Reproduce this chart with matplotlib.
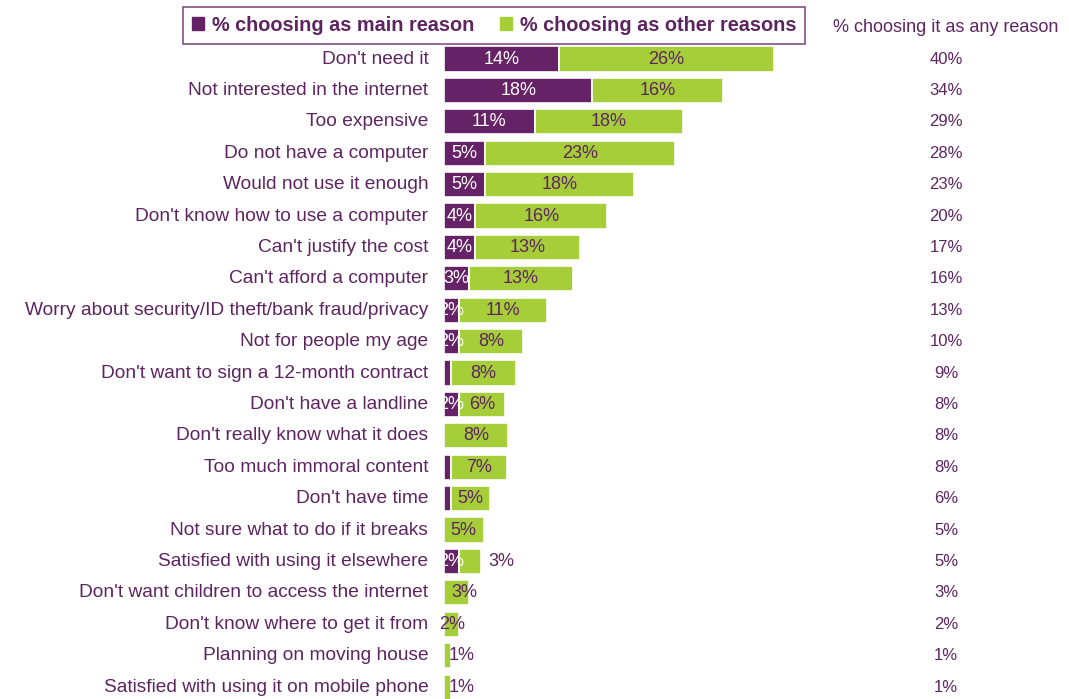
import matplotlib.pyplot as plt
from matplotlib.patches import Patch

plt.rcParams['font.family'] = ['Liberation Sans', 'DejaVu Sans']

purple = "#662266"
green = "#A6CE39"
txt = "#5E2461"

reasons = ["Don't need it", "Not interested in the internet", "Too expensive",
           "Do not have a computer", "Would not use it enough",
           "Don't know how to use a computer", "Can't justify the cost",
           "Can't afford a computer", "Worry about security/ID theft/bank fraud/privacy",
           "Not for people my age", "Don't want to sign a 12-month contract",
           "Don't have a landline", "Don't really know what it does",
           "Too much immoral content", "Don't have time",
           "Not sure what to do if it breaks", "Satisfied with using it elsewhere",
           "Don't want children to access the internet",
           "Don't know where to get it from", "Planning on moving house",
           "Satisfied with using it on mobile phone"]
main = [14, 18, 11, 5, 5, 3.8, 3.8, 3, 1.8, 1.8, 0.9, 1.8, 0, 0.9, 0.9, 0, 1.8, 0, 0, 0, 0]
other = [26, 15.8, 18, 23, 18, 16, 12.7, 12.7, 10.7, 7.8, 7.8, 5.6, 7.8, 6.7, 4.7, 4.8, 2.7, 3, 1.8, 0.8, 0.8]
main_lbl = ["14%", "18%", "11%", "5%", "5%", "4%", "4%", "3%", "2%", "2%", "", "2%", "", "", "", "", "2%", "", "", "", ""]
other_lbl = ["26%", "16%", "18%", "23%", "18%", "16%", "13%", "13%", "11%", "8%", "8%", "6%", "8%", "7%", "5%", "5%", "3%", "3%", "2%", "1%", "1%"]
any_lbl = ["40%", "34%", "29%", "28%", "23%", "20%", "17%", "16%", "13%", "10%", "9%", "8%", "8%", "8%", "6%", "5%", "5%", "3%", "2%", "1%", "1%"]

fig = plt.figure(figsize=(10.69, 6.99), dpi=100)
ax = fig.add_axes([444/1069, 0, 371/1069, (699-43.3)/699])
y = list(range(len(reasons)))

ax.barh(y, main, height=0.8, color=purple, edgecolor="white", linewidth=1.2)
ax.barh(y, other, left=main, height=0.8, color=green, edgecolor="white", linewidth=1.2)
ax.set_xlim(0, 45)
ax.set_ylim(20.38, -0.5)
ax.axis("off")

for i in y:
    if main_lbl[i]:
        ax.text(main[i] / 2, i, main_lbl[i], color="white", fontsize=13,
                ha="center", va="center")
    if other[i] >= 4:
        xc = main[i] + other[i] / 2
    elif main[i] > 0:
        xc = main[i] + other[i] + 2.5
    elif other[i] >= 2.5:
        xc = other[i] / 2 + 1.0
    elif other[i] >= 1.5:
        xc = other[i] / 2 + 0.1
    else:
        xc = 2.1
    ax.text(xc, i, other_lbl[i], color=txt, fontsize=13, ha="center", va="center")
    ax.text(-1.9, i, reasons[i], color=txt, fontsize=13.8, ha="right", va="center")
    ax.text(60.9, i, any_lbl[i], color=txt, fontsize=12, ha="center", va="center")

ax.text(60.9, -1.0, "% choosing it as any reason", color=txt, fontsize=13,
        ha="center", va="center", clip_on=False)

handles = [Patch(color=purple, label="% choosing as main reason"),
           Patch(color=green, label="% choosing as other reasons")]
leg = fig.legend(handles=handles, loc="center", bbox_to_anchor=(0.462, 0.964),
                 ncol=2, frameon=True, fancybox=False, handlelength=0.6,
                 handleheight=0.6, handletextpad=0.4, columnspacing=1.3,
                 borderpad=0.45, prop={"weight": "bold", "size": 14.3})
leg.get_frame().set_edgecolor(purple)
leg.get_frame().set_linewidth(1.2)
for t in leg.get_texts():
    t.set_color(txt)

fig.savefig("out.png", dpi=100)
